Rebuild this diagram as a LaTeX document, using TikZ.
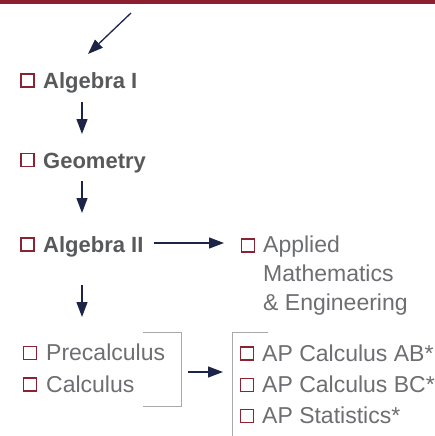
\documentclass[tikz,border=0pt]{standalone}
\usepackage{fontspec}
\setmainfont{Liberation Sans}
\usetikzlibrary{arrows.meta}
\definecolor{barred}{RGB}{139,30,47}
\definecolor{boxred}{RGB}{139,35,50}
\definecolor{navy}{RGB}{28,37,72}
\definecolor{txtb}{RGB}{88,89,91}
\definecolor{txtr}{RGB}{109,110,113}
\definecolor{brk}{RGB}{167,169,172}
\tikzset{
  cb/.style={draw=boxred, line width=1.6pt, minimum width=13pt, minimum height=13pt, inner sep=0pt, outer sep=0pt, rectangle},
  bold/.style={anchor=base west, inner sep=0pt, text=txtb, font=\fontsize{22}{26}\selectfont\bfseries},
  reg/.style={anchor=base west, inner sep=0pt, text=txtr, font=\fontsize{23}{28}\selectfont},
  arr/.style={draw=navy, line width=1.3pt, -{Triangle[length=15pt, width=11pt]}},
  brack/.style={draw=brk, line width=1pt}
}
\begin{document}
\begin{tikzpicture}
\useasboundingbox (0pt,0pt) rectangle (435pt,-436pt);
\fill[barred] (0pt,0pt) rectangle (435pt,-4pt);

\node[cb] (c1) at (27.5pt,-80.5pt) {};
\node[bold] (t1) at (43pt,-88.5pt) {Algebra I};
\node[cb] (c2) at (27.5pt,-160pt) {};
\node[bold] (t2) at (43pt,-168pt) {Geometry};
\node[cb] (c3) at (27.5pt,-244.5pt) {};
\node[bold] (t3) at (43pt,-252pt) {Algebra II};

\node[cb] (c4) at (248pt,-245.5pt) {};
\node[reg] (t4a) at (263pt,-252pt) {Applied};
\node[reg] (t4b) at (263pt,-281.5pt) {Mathematics};
\node[reg] (t4c) at (263pt,-310pt) {\& Engineering};

\node[cb] (c5) at (30pt,-353pt) {};
\node[reg] (t5) at (46pt,-360pt) {Precalculus};
\node[cb] (c6) at (30pt,-384.5pt) {};
\node[reg] (t6) at (46pt,-392pt) {Calculus};

\node[cb] (c7) at (247pt,-353.5pt) {};
\node[reg] (t7) at (262pt,-361pt) {AP Calculus AB*};
\node[cb] (c8) at (247pt,-385pt) {};
\node[reg] (t8) at (262pt,-392pt) {AP Calculus BC*};
\node[cb] (c9) at (247pt,-416pt) {};
\node[reg] (t9) at (262pt,-423pt) {AP Statistics*};

\coordinate (s0) at (131pt,-13pt);
\coordinate (e0) at (88pt,-54pt);
\coordinate (s1) at (82pt,-102pt);
\coordinate (e1) at (82pt,-134pt);
\coordinate (s2) at (82pt,-181pt);
\coordinate (e2) at (82pt,-213pt);
\coordinate (s3) at (82pt,-285pt);
\coordinate (e3) at (82pt,-317pt);
\coordinate (s4) at (154pt,-243pt);
\coordinate (e4) at (224pt,-243pt);
\coordinate (s5) at (188pt,-372pt);
\coordinate (e5) at (223pt,-372pt);

\draw[arr] (s0) -- (e0);
\draw[arr] (s1) -- (e1);
\draw[arr] (s2) -- (e2);
\draw[arr] (s3) -- (e3);
\draw[arr] (s4) -- (e4);
\draw[arr] (s5) -- (e5);

\draw[brack] (143pt,-332pt) -- (181pt,-332pt) -- (181pt,-406pt) -- (143pt,-406pt);
\draw[brack] (268pt,-332pt) -- (232pt,-332pt) -- (232pt,-437pt);
\end{tikzpicture}
\end{document}
